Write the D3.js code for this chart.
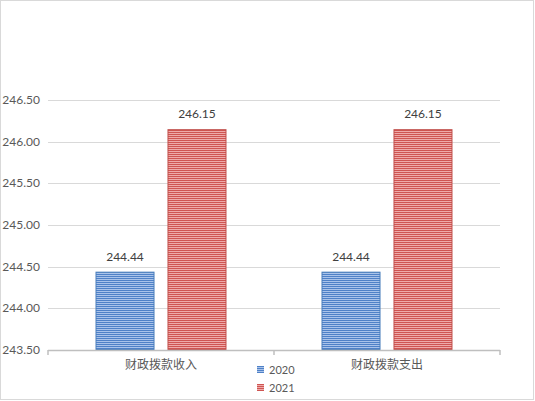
<!DOCTYPE html>
<meta charset="utf-8">
<style>
body{
  margin: 0;
  background-color: white;
}
text{
  font-family: Lato, "Noto Sans CJK SC", sans-serif;
}
</style>
<body>
<svg class="chart"></svg>
<script src="https://cdn.jsdelivr.net/npm/d3@7"></script>
<script>
// chart data
var categories = ["财政拨款收入", "财政拨款支出"];
var series = ["2020", "2021"];
var values2020 = [244.44, 244.44];
var values2021 = [246.15, 246.15];
var yTicks = [243.5, 244.0, 244.5, 245.0, 245.5, 246.0, 246.5];

var w = 535, h = 401;
// plot area (window.top is read-only, so no "top" here)
var plotLeft = 48, plotRight = 500, plotTop = 100, plotBottom = 350;

var svg = d3.select("svg").attr("width", w).attr("height", h);

// striped fills
var defs = svg.append("defs");
var fills = {
  "2020": {dark: "#4f81c7", light: "#a9c3ea", edge: "#4a7ebb"},
  "2021": {dark: "#cf5552", light: "#eeaaa9", edge: "#c0504d"}
};
series.forEach(function (s) {
  var p = defs.append("pattern")
    .attr("id", "stripe" + s)
    .attr("patternUnits", "userSpaceOnUse")
    .attr("width", 4).attr("height", 2);
  p.append("rect").attr("width", 4).attr("height", 1).attr("fill", fills[s].dark);
  p.append("rect").attr("y", 1).attr("width", 4).attr("height", 1).attr("fill", fills[s].light);
});

// outer border
svg.append("rect")
  .attr("x", 0.5).attr("y", 0.5)
  .attr("width", w - 2).attr("height", h - 2)
  .attr("fill", "white").attr("stroke", "#d9d9d9");

var y = d3.scaleLinear().domain([243.5, 246.5]).range([plotBottom, plotTop]);
var x0 = d3.scaleBand().domain(categories).range([plotLeft, plotRight]);
var x1 = d3.scaleBand().domain(series).range([0, x0.bandwidth()])
  .paddingInner(0.18).paddingOuter(0.66);

// gridlines
svg.append("g")
  .selectAll("line")
  .data(yTicks.slice(1))
  .enter()
  .append("line")
  .attr("x1", plotLeft).attr("x2", plotRight)
  .attr("y1", function (d) { return Math.round(y(d)) + 0.5; })
  .attr("y2", function (d) { return Math.round(y(d)) + 0.5; })
  .attr("stroke", "#d9d9d9");

// y tick labels
svg.append("g")
  .selectAll("text")
  .data(yTicks)
  .enter()
  .append("text")
  .attr("x", 40)
  .attr("y", function (d) { return y(d) + 4; })
  .attr("text-anchor", "end")
  .attr("font-size", "12px")
  .attr("fill", "#595959")
  .text(function (d) { return d3.format(".2f")(d); });

// bars
var rows = categories.map(function (c, i) {
  return [{cat: c, s: "2020", v: values2020[i]}, {cat: c, s: "2021", v: values2021[i]}];
});
var groups = svg.append("g")
  .selectAll("g")
  .data(rows)
  .enter()
  .append("g")
  .attr("transform", function (d) { return "translate(" + x0(d[0].cat) + ",0)"; });

groups.selectAll("rect")
  .data(function (d) { return d; })
  .enter()
  .append("rect")
  .attr("x", function (d) { return x1(d.s) + 0.5; })
  .attr("y", function (d) { return y(d.v) + 0.5; })
  .attr("width", x1.bandwidth() - 1)
  .attr("height", function (d) { return plotBottom - y(d.v) - 1; })
  .attr("fill", function (d) { return "url(#stripe" + d.s + ")"; })
  .attr("stroke", function (d) { return fills[d.s].edge; });

groups.selectAll("text")
  .data(function (d) { return d; })
  .enter()
  .append("text")
  .attr("x", function (d) { return x1(d.s) + x1.bandwidth() / 2; })
  .attr("y", function (d) { return y(d.v) - 11; })
  .attr("text-anchor", "middle")
  .attr("font-size", "12px")
  .attr("fill", "#404040")
  .text(function (d) { return d3.format(".2f")(d.v); });

// x axis
var axis = svg.append("g");
axis.append("line")
  .attr("x1", plotLeft).attr("x2", plotRight)
  .attr("y1", plotBottom + 0.5).attr("y2", plotBottom + 0.5)
  .attr("stroke", "#bfbfbf").attr("stroke-width", 1.5);
axis.selectAll(".tick")
  .data([plotLeft, x0(categories[1]), plotRight])
  .enter()
  .append("line")
  .attr("x1", function (d) { return d; }).attr("x2", function (d) { return d; })
  .attr("y1", plotBottom).attr("y2", plotBottom + 5)
  .attr("stroke", "#bfbfbf").attr("stroke-width", 1.5);
axis.selectAll("text")
  .data(categories)
  .enter()
  .append("text")
  .attr("x", function (d) { return x0(d) + x0.bandwidth() / 2; })
  .attr("y", plotBottom + 19)
  .attr("text-anchor", "middle")
  .attr("font-size", "12px")
  .attr("fill", "#595959")
  .attr("font-family", "'Noto Sans CJK SC', sans-serif")
  .text(function (d) { return d; });

// legend
var legend = svg.append("g")
  .selectAll("g")
  .data(series)
  .enter()
  .append("g")
  .attr("transform", function (d, i) { return "translate(257," + (366 + i * 18) + ")"; });
legend.append("rect")
  .attr("width", 7).attr("height", 7)
  .attr("fill", function (d) { return "url(#stripe" + d + ")"; });
legend.append("text")
  .attr("x", 12).attr("y", 7.5)
  .attr("font-size", "11px")
  .attr("fill", "#595959")
  .text(function (d) { return d; });
</script>
</body>
